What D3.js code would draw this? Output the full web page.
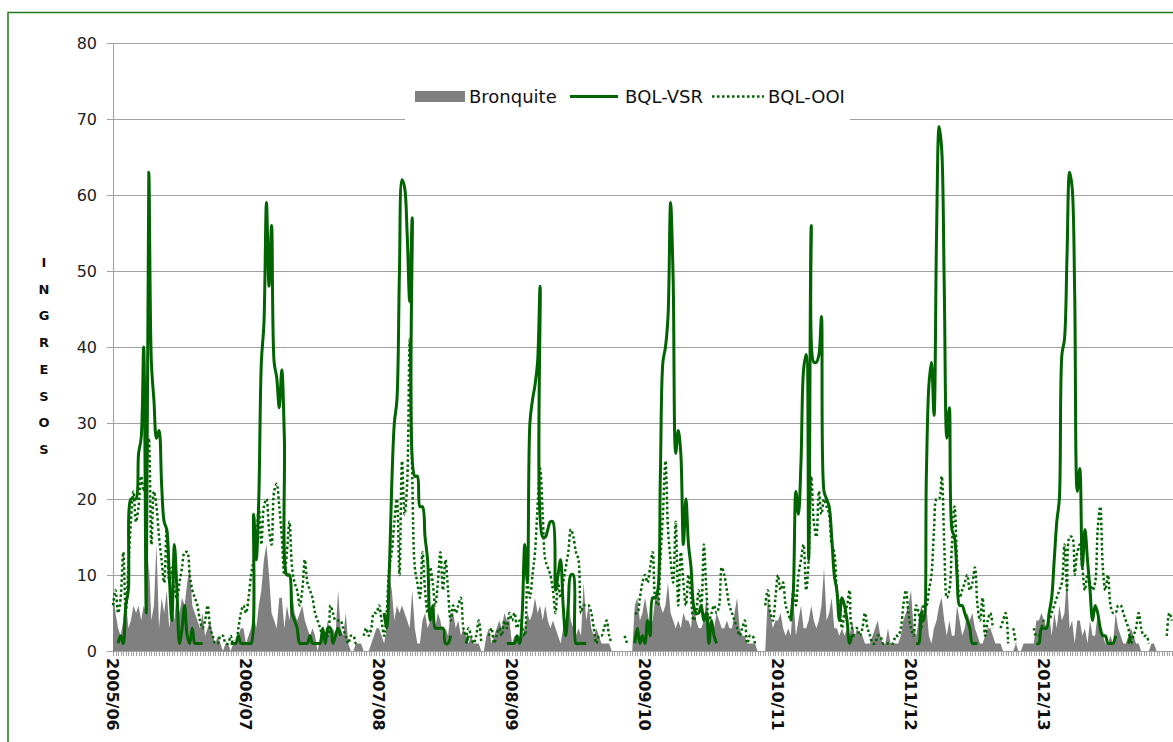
<!DOCTYPE html>
<html>
<head>
<meta charset="utf-8">
<script src="https://cdn.jsdelivr.net/npm/d3@7"></script>
<style>
  body { margin: 0; background: #fff; }
  svg { display: block; font-family: "DejaVu Sans", sans-serif; }
</style>
</head>
<body>
<svg id="chart" width="1173" height="742"></svg>
<script>
// season labels, one every 52 weeks
var seasons = ['2005/06', '2006/07', '2007/08', '2008/09', '2009/10', '2010/11', '2011/12', '2012/13'];
var weeksPerSeason = 52;
var yTicks = [0, 10, 20, 30, 40, 50, 60, 70, 80];
var yLetters = ['I', 'N', 'G', 'R', 'E', 'S', 'O', 'S'];

// weekly admissions, one row per season
var bronquite = [
  8,5,3,2,4,7,3,4,6,5,6,4,6,5,12,4,6,14,3,7,5,8,3,6,4,8,5,7,6,9,11,6,5,4,3,5,2,3,4,2,1,2,1,0,1,1,0,1,1,2,3,3,
  1,2,3,5,3,6,8,12,14,10,5,4,3,7,7,3,6,4,8,5,4,5,6,4,3,2,3,2,0,2,3,2,4,2,3,2,8,3,2,5,1,0,0,1,1,1,0,0,0,1,2,3,
  3,2,1,3,10,8,4,6,5,6,5,4,3,8,3,1,1,4,5,3,4,6,3,5,4,2,3,2,5,5,3,4,2,3,2,1,2,1,1,1,0,0,2,3,1,2,3,4,3,5,4,4,
  1,2,2,1,2,3,5,4,5,7,5,6,4,6,4,3,4,3,2,1,3,4,7,4,3,2,3,2,9,4,6,3,2,3,2,1,1,1,1,0,0,0,0,0,0,0,0,0,6,7,4,5,
  7,5,3,4,7,8,6,5,6,9,5,4,3,4,3,5,4,4,3,7,4,3,3,4,7,4,3,3,5,4,3,3,4,3,3,5,7,3,2,2,1,1,1,1,0,0,0,0,7,5,3,4,
  4,5,3,2,3,2,7,2,4,6,3,3,4,6,4,3,4,6,11,4,5,7,3,3,2,3,2,3,2,4,2,3,2,2,1,1,1,2,3,4,2,1,1,3,1,1,1,1,2,4,5,6,
  8,3,2,4,6,5,6,2,1,3,4,6,7,4,2,4,2,2,6,4,2,3,5,4,5,3,2,1,1,2,3,3,2,1,1,1,0,0,0,0,0,1,0,0,1,1,1,1,1,4,4,5,
  4,3,5,2,5,3,6,4,5,10,3,4,1,4,4,2,3,1,4,2,2,5,3,2,1,1,2,1,5,3,2,1,1,2,3,2,1,1,0,0,0,0,1,1,0,0,0,0,0,0,0,0
];

var n = null;
var bqlVsr = [
  n,n,1,2,1,6,8,20,20,20,26,28,40,5,63,38,33,28,29,22,17,16,10,4,14,8,1,3,6,2,1,3,1,1,1,1,n,n,n,n,n,n,n,n,n,n,1,1,1,2,1,1,
  1,1,1,18,12,20,38,43,59,48,56,38,36,32,37,28,10,10,5,4,3,1,1,1,1,2,1,1,1,1,3,1,3,3,1,2,3,2,n,n,n,n,n,n,n,n,n,n,n,n,n,n,
  n,n,5,3,10,22,30,33,50,62,61,55,46,57,23,23,19,19,15,12,4,6,3,3,3,3,1,1,2,n,n,n,n,n,1,2,n,n,n,n,n,n,n,n,n,n,n,n,n,n,1,1,
  1,1,2,1,5,14,9,30,33,35,38,48,15,15,16,17,17,8,10,12,6,2,6,10,10,1,1,1,1,1,n,n,n,n,n,n,n,n,n,n,n,n,n,n,n,n,n,n,1,3,1,2,
  1,4,2,7,7,8,23,38,40,44,59,49,26,29,26,14,20,14,11,6,5,5,6,4,5,1,4,2,1,n,n,n,n,n,n,n,n,n,n,n,n,n,n,n,n,n,n,n,n,n,n,n,
  n,n,n,n,n,4,8,21,18,25,37,39,12,56,38,38,39,44,21,20,19,15,10,8,4,7,6,4,1,2,2,n,n,n,n,n,n,n,n,n,n,n,n,n,n,n,n,n,n,n,n,n,
  n,n,1,1,5,4,23,35,38,31,55,69,66,48,28,32,16,15,10,6,6,5,4,3,1,1,1,n,n,n,n,n,n,n,n,n,n,n,n,n,n,n,n,n,n,n,n,n,n,1,1,3,
  3,3,5,7,12,17,20,39,41,52,63,61,47,21,24,11,16,12,8,4,6,5,3,2,2,1,1,1,2,n,n,n,n,1,2,n,n,n,n,n,n,n,n,n,n,n,n,n,n,n,n,n
];

var bqlOoi = [
  6,8,5,7,13,5,11,17,21,17,19,23,21,23,28,14,21,19,15,12,9,16,9,11,8,7,9,11,13,13,10,8,7,6,4,3,4,6,3,2,1,1,2,2,1,1,2,1,1,3,5,6,
  5,7,10,12,14,19,14,19,20,16,14,21,22,19,15,10,13,17,11,9,8,6,8,12,9,8,7,5,4,3,2,2,2,6,5,4,4,4,3,2,1,2,2,1,1,n,2,3,2,3,5,5,
  6,4,2,5,11,13,17,20,10,25,18,22,41,23,11,9,7,13,8,5,11,9,6,9,13,8,12,8,4,6,5,6,7,3,2,3,2,1,2,4,1,n,n,2,3,1,2,3,2,4,3,5,
  4,5,3,4,3,2,9,7,10,13,19,24,18,12,11,10,8,5,9,7,9,11,13,16,15,13,12,5,6,6,6,5,3,1,2,2,3,4,2,1,n,n,n,n,2,1,n,n,5,5,7,9,
  10,9,11,13,7,6,12,18,25,16,12,9,17,6,13,9,6,10,7,4,5,8,6,14,8,4,5,6,5,6,11,10,8,6,5,4,3,2,3,4,1,2,2,1,n,n,n,6,8,5,4,7,
  10,8,9,6,5,4,8,6,10,12,14,8,12,23,17,15,21,18,20,19,18,14,13,8,6,3,5,6,8,3,3,3,2,3,5,3,2,1,1,2,2,1,1,1,1,1,2,2,3,6,8,5,
  3,2,6,5,3,6,6,8,10,16,20,20,23,14,7,8,14,19,12,7,8,9,10,8,9,11,6,4,7,2,4,5,3,n,n,3,4,5,1,n,3,1,n,1,n,n,n,n,3,2,2,3,
  4,4,4,5,6,7,8,9,14,8,15,15,10,13,14,11,8,10,9,8,9,16,19,11,8,10,6,5,5,6,6,5,4,3,1,2,3,5,3,2,2,1,n,n,n,n,n,n,2,5,4,n
];

var svg = d3.select('#chart');
var margin = { left: 113, top: 43, bottom: 651 };
var weekWidth = 133 / weeksPerSeason;
var nWeeks = seasons.length * weeksPerSeason;

var x = d3.scaleLinear().domain([0, nWeeks]).range([margin.left, margin.left + nWeeks * weekWidth]);
var y = d3.scaleLinear().domain([0, 80]).range([margin.bottom, margin.top]);

// outer frame
svg.append('rect')
  .attr('x', 8).attr('y', 12.5)
  .attr('width', 1200).attr('height', 800)
  .attr('fill', 'none')
  .attr('stroke', '#237a23')
  .attr('stroke-width', 1.5);

// horizontal gridlines
svg.append('g').selectAll('line')
  .data(yTicks)
  .enter().append('line')
  .attr('x1', margin.left - 6)
  .attr('x2', x(nWeeks))
  .attr('y1', function(d) { return Math.round(y(d)) + 0.5; })
  .attr('y2', function(d) { return Math.round(y(d)) + 0.5; })
  .attr('stroke', '#a0a0a0')
  .attr('stroke-width', 1);

// vertical axis line
svg.append('line')
  .attr('x1', margin.left + 0.5).attr('x2', margin.left + 0.5)
  .attr('y1', y(80)).attr('y2', y(0))
  .attr('stroke', '#a0a0a0');

// y tick labels
svg.append('g').selectAll('text')
  .data(yTicks)
  .enter().append('text')
  .attr('x', 97)
  .attr('y', function(d) { return y(d); })
  .attr('dy', '0.35em')
  .attr('text-anchor', 'end')
  .attr('font-size', 16)
  .attr('fill', '#222')
  .text(function(d) { return d; });

// category ticks under the axis
svg.append('g').selectAll('line')
  .data(d3.range(nWeeks + 1))
  .enter().append('line')
  .attr('x1', function(d) { return Math.round(x(d)) + 0.5; })
  .attr('x2', function(d) { return Math.round(x(d)) + 0.5; })
  .attr('y1', y(0)).attr('y2', y(0) + 5)
  .attr('stroke', '#a0a0a0');

// season labels
svg.append('g').selectAll('text')
  .data(seasons)
  .enter().append('text')
  .attr('transform', function(d, i) {
    return 'translate(' + x(i * weeksPerSeason) + ',658) rotate(90)';
  })
  .attr('dy', '0.35em')
  .attr('font-size', 16)
  .attr('font-weight', 'bold')
  .attr('fill', '#111')
  .text(function(d) { return d; });

// y axis title, one letter per row
svg.append('g').selectAll('text')
  .data(yLetters)
  .enter().append('text')
  .attr('x', 44)
  .attr('y', function(d, i) { return 267 + i * 26.7; })
  .attr('text-anchor', 'middle')
  .attr('font-size', 13)
  .attr('font-weight', 'bold')
  .attr('fill', '#111')
  .text(function(d) { return d; });

// series
var area = d3.area()
  .x(function(d, i) { return x(i); })
  .y0(y(0))
  .y1(function(d) { return y(d); });

svg.append('path')
  .datum(bronquite)
  .attr('d', area)
  .attr('fill', '#808080');

var line = d3.line()
  .defined(function(d) { return d !== null; })
  .x(function(d, i) { return x(i); })
  .y(function(d) { return y(d); })
  .curve(d3.curveCatmullRom.alpha(0.5));

svg.append('path')
  .datum(bqlOoi)
  .attr('d', line)
  .attr('fill', 'none')
  .attr('stroke', '#006400')
  .attr('stroke-width', 2.5)
  .attr('stroke-dasharray', '2.5,2.5');

svg.append('path')
  .datum(bqlVsr)
  .attr('d', line)
  .attr('fill', 'none')
  .attr('stroke', '#006400')
  .attr('stroke-width', 3)
  .attr('stroke-linejoin', 'round');

// legend
var legend = svg.append('g');
legend.append('rect')
  .attr('x', 405).attr('y', 77)
  .attr('width', 445).attr('height', 44)
  .attr('fill', '#fff');
legend.append('rect')
  .attr('x', 415).attr('y', 91)
  .attr('width', 50).attr('height', 11)
  .attr('fill', '#808080');
legend.append('line')
  .attr('x1', 570).attr('x2', 618)
  .attr('y1', 96.5).attr('y2', 96.5)
  .attr('stroke', '#006400').attr('stroke-width', 3);
legend.append('line')
  .attr('x1', 712).attr('x2', 764)
  .attr('y1', 96.5).attr('y2', 96.5)
  .attr('stroke', '#006400').attr('stroke-width', 2.5)
  .attr('stroke-dasharray', '2.5,2.5');

var legendLabels = [['Bronquite', 469], ['BQL-VSR', 625], ['BQL-OOI', 768]];
legend.selectAll('text.lbl')
  .data(legendLabels)
  .enter().append('text')
  .attr('class', 'lbl')
  .attr('x', function(d) { return d[1]; })
  .attr('y', 103)
  .attr('font-size', 18)
  .attr('fill', '#111')
  .text(function(d) { return d[0]; });
</script>
</body>
</html>
